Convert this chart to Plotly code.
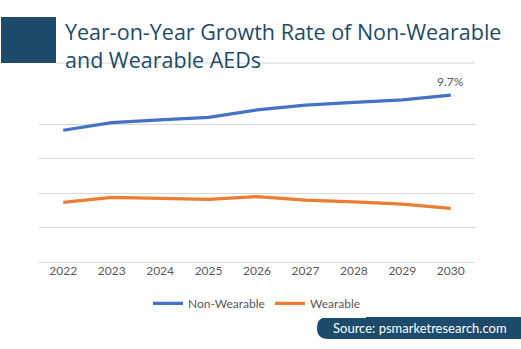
import plotly.graph_objects as go

years = [2022, 2023, 2024, 2025, 2026, 2027, 2028, 2029, 2030]
non_wearable = [7.66, 8.10, 8.26, 8.41, 8.84, 9.12, 9.28, 9.43, 9.70]
wearable = [3.47, 3.76, 3.70, 3.64, 3.80, 3.60, 3.49, 3.37, 3.12]
y_ticks = [0, 2, 4, 6, 8, 10]

W, H = 521, 349
fig = go.Figure()
fig.add_trace(go.Scatter(x=years, y=non_wearable, name="Non-Wearable", mode="lines",
                         line=dict(color="#4472C4", width=3.2)))
fig.add_trace(go.Scatter(x=years, y=wearable, name="Wearable", mode="lines",
                         line=dict(color="#ED7D31", width=3.2)))
fig.add_annotation(x=years[-1], y=non_wearable[-1], text=f"{non_wearable[-1]:.1f}%",
                   showarrow=False, yshift=14, xanchor="center",
                   font=dict(family="Lato", size=12, color="#595959"))

fig.update_layout(
    width=W, height=H,
    margin=dict(l=39, r=46, t=90, b=87),
    paper_bgcolor="white", plot_bgcolor="white",
    showlegend=True,
    legend=dict(orientation="h", x=0.5, xanchor="center", y=-0.24, yanchor="middle",
                font=dict(family="Lato", size=12, color="#595959"),
                itemwidth=30, tracegroupgap=0),
    xaxis=dict(range=[years[0] - 0.5, years[-1] + 0.5], autorange=False,
               tickvals=years, ticktext=[str(y) for y in years],
               showgrid=False, showline=False, zeroline=False, ticks="", fixedrange=True,
               tickfont=dict(family="Lato", size=12, color="#595959")),
    yaxis=dict(range=[0, 10], autorange=False, tickvals=y_ticks, showticklabels=False, showgrid=True,
               gridcolor="#D9D9D9", gridwidth=1, zeroline=True, zerolinecolor="#D9D9D9",
               zerolinewidth=1, fixedrange=True),
)

# title block
fig.add_shape(type="rect", xref="paper", yref="paper", x0=-38/436, x1=17/436,
              y0=(262-63)/172, y1=(262-17)/172, line_width=0, fillcolor="#1D4B6B")
fig.add_shape(type="line", xref="paper", yref="paper", x0=17/436, x1=1.0,
              y0=(262-63)/172, y1=(262-63)/172, line=dict(color="#E3E3E3", width=1.5))
fig.add_annotation(xref="paper", yref="paper", x=24/436, y=(262-15)/172, xanchor="left", yanchor="top",
                   align="left", showarrow=False,
                   text="Year-on-Year Growth Rate of Non-Wearable<br>and Wearable AEDs",
                   font=dict(family="Open Sans", size=21.5, color="#1D4B6B"))

# source badge
x1 = (521-39)/436
yb0 = (262-339)/172
yb1 = (262-317)/172
path = (f"M {x1},{yb0} L {(328-39)/436},{yb0} "
        f"Q {(317-39)/436},{yb0} {(317-39)/436},{(262-328)/172} "
        f"Q {(317-39)/436},{yb1} {(328-39)/436},{yb1} L {x1},{yb1} Z")
fig.add_shape(type="path", xref="paper", yref="paper", path=path, line_width=0, fillcolor="#1D4B6B")
fig.add_annotation(xref="paper", yref="paper", x=(420-39)/436, y=(262-328)/172, showarrow=False,
                   xanchor="center", yanchor="middle",
                   text="Source: psmarketresearch.com",
                   font=dict(family="Lato", size=13, color="white"))

fig.write_html("out.html")
